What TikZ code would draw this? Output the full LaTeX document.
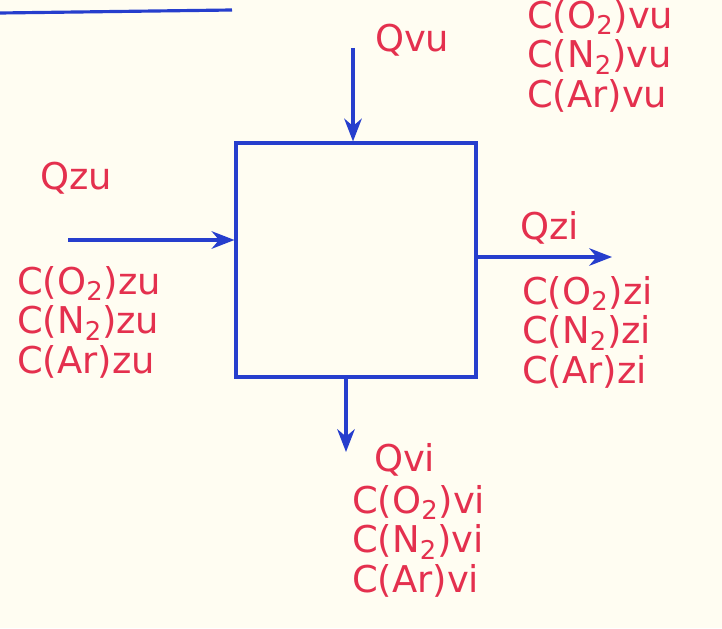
\documentclass[tikz,border=0pt]{standalone}
\usepackage{fontspec}
\setmainfont{DejaVu Sans}
\usetikzlibrary{positioning, arrows.meta}
\definecolor{pen}{RGB}{38,62,205}
\definecolor{ink}{RGB}{228,48,78}
\definecolor{paper}{RGB}{255,253,242}

\begin{document}
\begin{tikzpicture}[
  x=0.02cm, y=-0.02cm, >=Stealth, font=\fontsize{21}{22.5}\selectfont,
  wall/.style={draw=pen, line width=1.8pt},
  flow/.style={wall, -{Stealth[length=13pt, width=10pt]}},
  lbl/.style={text=ink, inner sep=1pt, anchor=west},
  stack/.style={lbl, align=left}
]
\fill[paper] (0,0) rectangle (722,628);
\useasboundingbox (0,0) rectangle (722,628);

% heading underline (top left, text cut off)
\coordinate (ulA) at (0,13);
\coordinate (ulB) at (232,10);
\draw[wall] (ulA) -- (ulB);

% tank
\node[wall, minimum width=4.8cm, minimum height=4.68cm, inner sep=0pt] (tank) at (356,260) {};

% streams
\coordinate (vuIn) at (353,48);
\coordinate (zuIn) at (68,240);
\coordinate (ziOut) at (612,257);
\coordinate (viOut) at (346,452);
\draw[flow] (vuIn) -- (vuIn |- tank.north);
\draw[flow] (zuIn) -- (tank.west |- zuIn);
\draw[flow] (tank.east |- ziOut) -- (ziOut);
\draw[flow] (viOut |- tank.south) -- (viOut);

% labels
\node[lbl] (qvu) at (373,40) {Qvu};
\node[stack] (cvu) at (525,56) {C(O\textsubscript{2})vu\\C(N\textsubscript{2})vu\\C(Ar)vu};
\node[lbl] (qzu) at (38,178) {Qzu};
\node[stack] (czu) at (15,322) {C(O\textsubscript{2})zu\\C(N\textsubscript{2})zu\\C(Ar)zu};
\node[lbl] (qzi) at (518,228) {Qzi};
\node[stack] (czi) at (520,332) {C(O\textsubscript{2})zi\\C(N\textsubscript{2})zi\\C(Ar)zi};
\node[lbl] (qvi) at (372,460) {Qvi};
\node[stack] (cvi) at (350,541) {C(O\textsubscript{2})vi\\C(N\textsubscript{2})vi\\C(Ar)vi};
\end{tikzpicture}
\end{document}
